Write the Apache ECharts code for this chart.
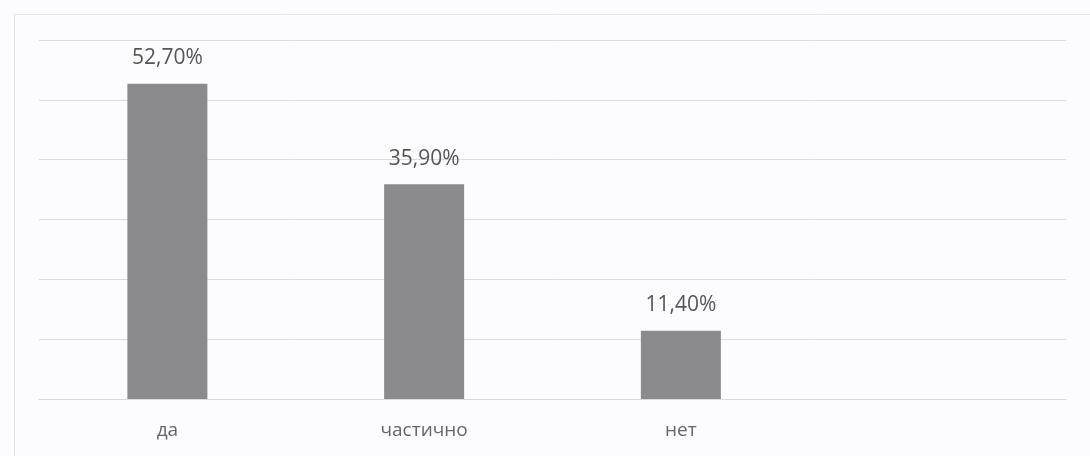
<!DOCTYPE html>
<html><head><meta charset="utf-8">
<script src="https://cdn.jsdelivr.net/npm/echarts@6/dist/echarts.min.js"></script>
<style>html,body{margin:0;padding:0;background:#fcfbfd;}#c{width:1090px;height:456px;}</style>
</head><body><div id="c"></div>
<script>
const categories = ['да', 'частично', 'нет', ''];
const values = [52.7, 35.9, 11.4, null];
const yTicks = [0, 10, 20, 30, 40, 50, 60];

const chart = echarts.init(document.getElementById('c'), null, {renderer: 'canvas'});
chart.setOption({
  backgroundColor: '#fcfbfd',
  animation: false,
  graphic: [{
    type: 'rect', left: 12, top: 12,
    shape: {width: 1100, height: 460},
    style: {fill: 'none', stroke: '#e6e4e8', lineWidth: 1}
  }],
  grid: {left: 39, right: 24, top: 40, bottom: 57},
  xAxis: {
    type: 'category', data: categories,
    axisLine: {lineStyle: {color: '#d9d9d9', width: 1}},
    axisTick: {show: false},
    axisLabel: {color: '#666666', fontSize: 19, fontFamily: 'Open Sans, sans-serif', margin: 22}
  },
  yAxis: {
    type: 'value', min: yTicks[0], max: yTicks[yTicks.length - 1], interval: 10,
    axisLabel: {show: false}, axisLine: {show: false}, axisTick: {show: false},
    splitLine: {lineStyle: {color: '#dcdcdc', width: 1}}
  },
  series: [{
    type: 'bar', data: values, barWidth: 80,
    itemStyle: {color: '#8b8b8d'},
    label: {
      show: true, position: 'top', distance: 15,
      color: '#555555', fontSize: 21, fontFamily: 'Open Sans, sans-serif',
      formatter: p => p.value == null ? '' : p.value.toFixed(2).replace('.', ',') + '%'
    }
  }]
});
</script></body></html>
